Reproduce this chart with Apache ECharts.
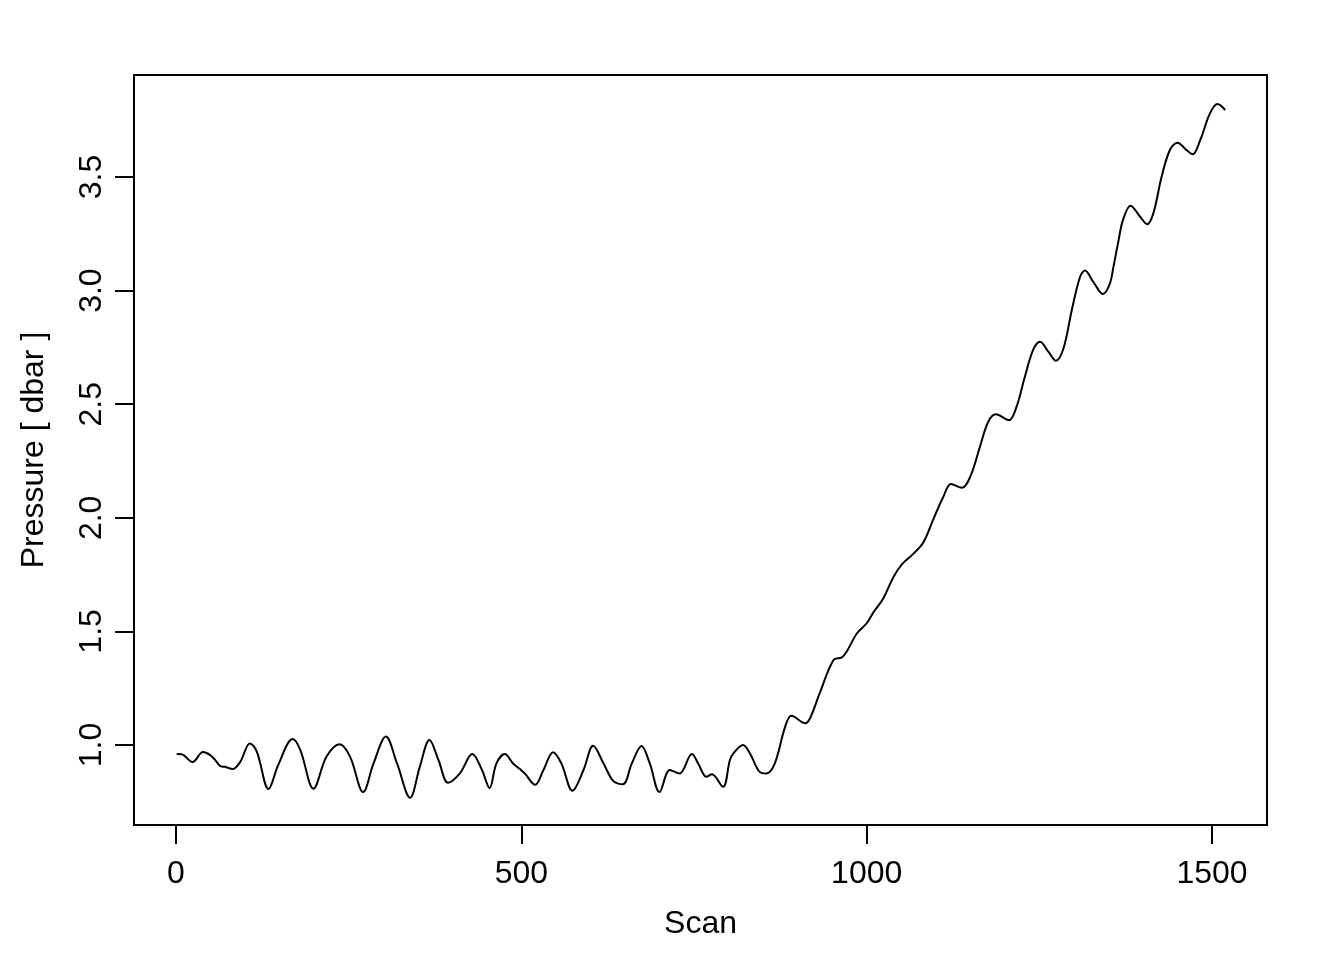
<!DOCTYPE html>
<html>
<head>
<meta charset="utf-8">
<script src="https://cdn.jsdelivr.net/npm/echarts@6/dist/echarts.min.js"></script>
<style>
html,body{margin:0;padding:0;background:#fff;}
#chart{width:1344px;height:960px;}
</style>
</head>
<body>
<div id="chart"></div>
<script>
const scans = [1,8,24,39,49,56,65,71,82,93,107,117,134,148,169,180,199,218,237,252,271,286,304,320,339,353,367,380,394,411,429,443,454,464,476,488,498,505,520,532,546,558,574,590,604,619,633,647,660,674,686,700,715,729,747,756,768,776,792,802,807,821,831,845,855,867,882,891,911,918,932,952,964,971,986,1000,1010,1024,1039,1051,1067,1082,1096,1111,1122,1138,1150,1164,1176,1187,1206,1217,1229,1241,1251,1263,1274,1285,1297,1309,1316,1328,1342,1352,1357,1364,1371,1382,1396,1406,1415,1427,1439,1450,1463,1472,1483,1497,1508,1519];
const pressure = [0.960,0.959,0.925,0.969,0.957,0.937,0.906,0.904,0.894,0.926,1.007,0.971,0.806,0.912,1.026,0.978,0.808,0.949,1.003,0.949,0.793,0.919,1.037,0.919,0.768,0.904,1.022,0.934,0.834,0.875,0.960,0.890,0.811,0.919,0.960,0.919,0.894,0.875,0.825,0.890,0.968,0.919,0.799,0.890,0.997,0.919,0.842,0.827,0.919,0.996,0.919,0.793,0.890,0.875,0.960,0.919,0.860,0.871,0.816,0.934,0.963,1.000,0.963,0.882,0.875,0.919,1.081,1.129,1.096,1.118,1.228,1.374,1.386,1.411,1.492,1.536,1.585,1.645,1.741,1.795,1.840,1.891,1.990,2.093,2.149,2.132,2.181,2.313,2.423,2.456,2.430,2.489,2.621,2.739,2.775,2.731,2.691,2.746,2.915,3.061,3.088,3.039,2.985,3.030,3.100,3.210,3.310,3.374,3.325,3.292,3.340,3.501,3.619,3.651,3.619,3.600,3.663,3.780,3.821,3.795];
const xTicks = [0, 500, 1000, 1500];
const yTicks = [1.0, 1.5, 2.0, 2.5, 3.0, 3.5];
const xTitle = 'Scan';
const yTitle = 'Pressure [ dbar ]';

const FONT = '"Liberation Sans", Arial, Helvetica, sans-serif';
const chart = echarts.init(document.getElementById('chart'), null, {renderer: 'canvas'});
const data = scans.map((s, i) => [s, pressure[i]]);

chart.setOption({
  animation: false,
  backgroundColor: '#fff',
  grid: {left: 134, right: 77, top: 75, bottom: 135, show: true, borderColor: '#000', borderWidth: 2, backgroundColor: 'transparent'},
  xAxis: {
    type: 'value', min: -60.8, max: 1579.6,
    axisLine: {show: false, onZero: false},
    splitLine: {show: false},
    axisTick: {show: true, customValues: xTicks, length: 19, inside: false, lineStyle: {color: '#000', width: 2}},
    axisLabel: {customValues: xTicks, fontSize: 32, color: '#000', fontFamily: FONT, margin: 33,
      formatter: v => String(v)},
    name: xTitle, nameLocation: 'middle', nameGap: 83,
    nameTextStyle: {fontSize: 32, color: '#000', fontFamily: FONT}
  },
  yAxis: {
    type: 'value', min: 0.648, max: 3.949,
    axisLine: {show: false, onZero: false},
    splitLine: {show: false},
    axisTick: {show: true, customValues: yTicks, length: 19, inside: false, lineStyle: {color: '#000', width: 2}},
    axisLabel: {customValues: yTicks, rotate: 90, fontSize: 32, color: '#000', fontFamily: FONT, margin: 26,
      formatter: v => Number(v).toFixed(1)},
    name: yTitle, nameLocation: 'middle', nameGap: 84,
    nameTextStyle: {fontSize: 32, color: '#000', fontFamily: FONT}
  },
  series: [{
    type: 'line', data: data, showSymbol: false, smooth: 0.35,
    lineStyle: {color: '#000', width: 2}
  }]
});
</script>
</body>
</html>
